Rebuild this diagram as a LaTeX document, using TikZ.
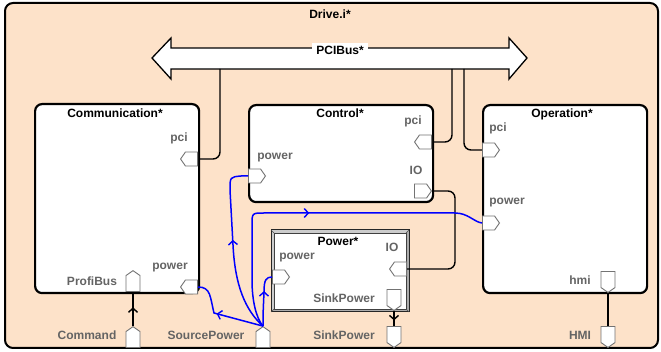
\documentclass[tikz,border=0pt]{standalone}
\usepackage{fontspec}
\setmainfont{Liberation Sans}
\usetikzlibrary{shapes.symbols,arrows.meta,decorations.markings}
\definecolor{peach}{RGB}{253,226,201}
\definecolor{lbl}{RGB}{100,100,100}
\definecolor{portgray}{RGB}{115,115,115}
\begin{document}
\begin{tikzpicture}[x=1pt,y=-1pt,
  box/.style={draw=black, line width=2.2pt, rounded corners=7pt, fill=white, anchor=north west, inner sep=0pt},
  title/.style={font=\bfseries\fontsize{12}{14}\selectfont, text=black, inner sep=0pt, anchor=base},
  lab/.style={font=\bfseries\fontsize{12}{14}\selectfont, text=lbl, inner sep=0pt, anchor=base},
  port/.style={shape=signal, draw=portgray, fill=white, line width=0.9pt, inner sep=0pt, signal pointer angle=110},
  portH/.style={port, minimum width=17pt, minimum height=14pt},
  portV/.style={port, minimum width=14pt, minimum height=16pt},
  wire/.style={line width=1.4pt, rounded corners=7pt},
  pwr/.style={line width=1.5pt, blue},
  midarrow/.style={postaction={decorate}, decoration={markings, mark=at position #1 with {\arrow{Straight Barb[length=4pt,width=9pt,line width=1.4pt]}}}}
]
\useasboundingbox (0,0) rectangle (661,352);
% outer frame
\draw[line width=2pt, fill=peach, rounded corners=8pt] (5,3) rectangle (658,348);
\node[title] (drive) at (330,19) {Drive.i*};

% PCI bus
\draw[line width=1.3pt, fill=white, line join=miter] (152,58) -- (171,38) -- (171,48) -- (509,48) -- (509,38) -- (527,58) -- (509,79) -- (509,69) -- (171,69) -- (171,79) -- cycle;
\node[font=\bfseries\fontsize{12}{14}\selectfont, fill=white, inner xsep=4pt, inner ysep=3pt] (pcibus) at (340,50) {PCIBus*};
\coordinate (bus1) at (220,69);
\coordinate (bus2) at (452,69);
\coordinate (bus3) at (464,69);

% boxes
\node[box, minimum width=164pt, minimum height=189pt] (comm) at (34,103) {};
\node[box, minimum width=184pt, minimum height=97pt] (ctrl) at (248,104) {};
\node[box, minimum width=164pt, minimum height=188pt] (oper) at (482,104) {};
% Power box (bevelled)
\fill[gray!40] (271,230) rectangle (409,312);
\fill[gray!65] (271,312) -- (409,312) -- (409,230) -- (406,233) -- (406,309) -- (274,309) -- cycle;
\draw[black!85, line width=1pt] (271,230) rectangle (409,312);
\node[draw=black!75, fill=white, line width=0.8pt, minimum width=132pt, minimum height=76pt, anchor=north west, inner sep=0pt] (power) at (274,233) {};
\draw[black!70, line width=0.6pt] (271,230) -- (274,233) (409,230) -- (406,233) (271,312) -- (274,309) (409,312) -- (406,309);

% titles
\node[title] (tcomm) at (115,118) {Communication*};
\node[title] (tctrl) at (340,118) {Control*};
\node[title] (toper) at (562,118) {Operation*};
\node[title] (tpower) at (338,246) {Power*};

% bus wires (drawn before ports)
\coordinate (cpciE) at (198,159);
\coordinate (ctpciE) at (432,142);
\coordinate (opciW) at (482,150);
\draw[wire] (cpciE) -| (bus1);
\draw[wire] (ctpciE) -| (bus2);
\draw[wire] (opciW) -| (bus3);

% ports
\node[portH, signal to=west, anchor=east] (cpci) at (198,159) {};
\node[portH, signal to=west, anchor=east] (cpow) at (198,287) {};
\node[portV, signal to=north, anchor=south] (profi) at (133,292) {};
\node[portV, signal to=north, anchor=south] (cmd) at (133,348) {};
\node[portH, signal to=west, anchor=east] (ctpci) at (432,142) {};
\node[portH, signal to=east, anchor=east] (ctio) at (432,191) {};
\node[portH, signal to=east, anchor=west] (ctpow) at (248,176) {};
\node[portH, signal to=west, anchor=east] (pio) at (407,269) {};
\node[portH, signal to=east, anchor=west] (ppow) at (272,277) {};
\node[portV, signal to=south, anchor=south] (psink) at (394,311) {};
\node[portV, signal to=south, anchor=south] (osink) at (394,348) {};
\node[portH, signal to=east, anchor=west] (opci) at (482,150) {};
\node[portH, signal to=east, anchor=west] (opow) at (482,223) {};
\node[portV, signal to=south, anchor=south] (hmi) at (608,293) {};
\node[portV, signal to=south, anchor=south] (HMI) at (608,348) {};
\node[portV, signal to=north, anchor=south] (src) at (263,348) {};

% black connectors
\draw[wire] (ctio.east) -- ++(23,0) |- (pio.east);
\draw[line width=1.3pt, midarrow=0.55] (cmd.north) -- (profi.south);
\draw[line width=1.3pt, midarrow=0.62] (psink.south) -- (osink.north);
\draw[line width=1.3pt] (hmi.south) -- (HMI.north);

% blue power connectors
\draw[pwr, midarrow=48pt] (src.north) -- (214,313) .. controls (210,297) and (211,287) .. (cpow.east);
\draw[pwr, midarrow=94pt] (src.north) .. controls (245,310) and (235,285) .. (233,245) -- (230,190) .. controls (230,177) .. (241,176) -- (ctpow.west);
\draw[pwr, midarrow=170pt] (src.north) .. controls (256,318) and (252,300) .. (252,280) -- (252,225) .. controls (252,213) .. (264,213) -- (455,213) .. controls (468,213) and (474,222) .. (opow.west);
\draw[pwr, midarrow=35pt] (src.north) .. controls (263,315) .. (264,292) .. controls (264,280) and (266,277) .. (ppow.west);

% port labels
\node[lab] (lcpci) at (179,142) {pci};
\node[lab] (lcpow) at (170,270) {power};
\node[lab] (lprofi) at (92,286) {ProfiBus};
\node[lab] (lcmd) at (87,340) {Command};
\node[lab] (lsrc) at (206,340) {SourcePower};
\node[lab] (losink) at (344,340) {SinkPower};
\node[lab] (lHMI) at (580,340) {HMI};
\node[lab] (lctpci) at (413,125) {pci};
\node[lab] (lctio) at (416,175) {IO};
\node[lab] (lctpow) at (275,160) {power};
\node[lab] (lpio) at (392,252) {IO};
\node[lab] (lppow) at (297,260) {power};
\node[lab] (lpsink) at (344,303) {SinkPower};
\node[lab] (lopci) at (498,132) {pci};
\node[lab] (lopow) at (507,205) {power};
\node[lab] (lhmi) at (580,285) {hmi};
\end{tikzpicture}
\end{document}
